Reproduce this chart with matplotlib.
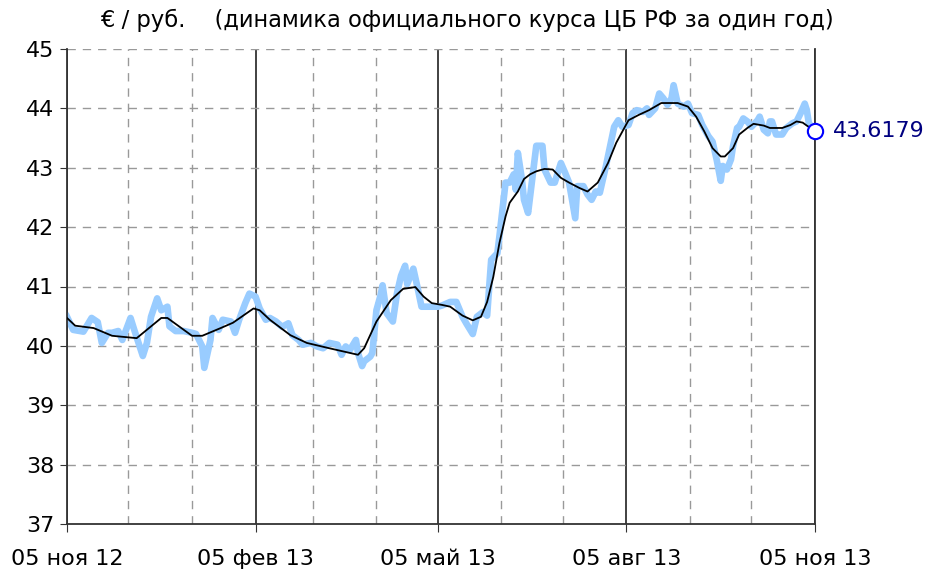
import numpy as np
import pandas as pd
import matplotlib
matplotlib.use('Agg')
import matplotlib.pyplot as plt
import matplotlib.dates as mdates

# daily EUR/RUB rate, days counted from 05 Nov 2012
start = pd.Timestamp('2012-11-05')
rate_days = [0, 3, 8, 12, 15, 17, 20, 22, 25, 27, 31, 33, 37, 39, 41, 44, 46, 49, 50, 53,
             57, 61, 63, 66, 67, 70, 71, 74, 76, 80, 82, 84, 87, 89, 92, 94, 97, 99, 102, 105,
             108, 110, 113, 115, 119, 122, 125, 128, 132, 134, 136, 138, 141, 142, 144, 145, 148, 149, 151, 153,
             154, 156, 159, 161, 163, 165, 166, 169, 171, 173, 177, 181, 183, 187, 190, 193, 195, 198, 200, 203,
             205, 207, 210, 211, 214, 216, 218, 219, 220, 222, 223, 225, 227, 229, 232, 233, 236, 238, 241, 243,
             245, 248, 249, 252, 254, 256, 258, 260, 263, 265, 267, 269, 271, 274, 276, 278, 281, 283, 284, 287,
             289, 291, 293, 295, 296, 298, 301, 303, 305, 308, 310, 313, 315, 317, 319, 320, 322, 324, 325, 327,
             328, 330, 332, 334, 337, 338, 340, 342, 343, 344, 346, 349, 351, 354, 356, 358, 360, 361, 362, 365]
rate = [40.49, 40.27, 40.24, 40.47, 40.40, 40.05, 40.22, 40.22, 40.25, 40.10, 40.47, 40.25, 39.83, 40.05, 40.49, 40.80, 40.60, 40.66, 40.33, 40.25,
        40.25, 40.22, 40.20, 39.99, 39.63, 40.10, 40.47, 40.27, 40.44, 40.41, 40.22, 40.44, 40.72, 40.88, 40.83, 40.63, 40.44, 40.47, 40.41, 40.32,
        40.38, 40.18, 40.10, 40.02, 40.05, 39.99, 39.96, 40.05, 40.02, 39.85, 39.99, 39.93, 40.10, 39.88, 39.66, 39.74, 39.82, 39.88, 40.60, 40.85,
        41.02, 40.55, 40.41, 40.88, 41.18, 41.35, 41.04, 41.30, 40.99, 40.66, 40.66, 40.66, 40.68, 40.74, 40.74, 40.49, 40.37, 40.20, 40.49, 40.57,
        40.51, 41.45, 41.56, 41.84, 42.75, 42.75, 42.89, 42.63, 43.25, 42.80, 42.46, 42.24, 42.80, 43.37, 43.37, 42.97, 42.75, 42.75, 43.08, 42.92,
        42.75, 42.15, 42.69, 42.69, 42.55, 42.46, 42.60, 42.58, 43.03, 43.36, 43.69, 43.80, 43.69, 43.72, 43.92, 43.97, 43.94, 44.00, 43.89, 44.00,
        44.25, 44.17, 44.06, 44.17, 44.39, 44.08, 44.03, 44.08, 43.92, 43.89, 43.72, 43.53, 43.44, 43.14, 42.78, 43.03, 42.97, 43.14, 43.36, 43.67,
        43.69, 43.83, 43.78, 43.69, 43.80, 43.86, 43.64, 43.58, 43.78, 43.78, 43.56, 43.56, 43.67, 43.75, 43.78, 43.92, 44.08, 43.97, 43.75, 43.6179]

# moving average (black line)
avg_days = [0, 4, 13, 22, 34, 46, 49, 61, 66, 75, 81, 91, 94, 99, 109, 117, 128, 142, 145, 151,
            158, 164, 170, 174, 178, 183, 187, 193, 198, 202, 205, 208, 211, 214, 216, 220, 223, 226, 229, 233,
            237, 241, 245, 250, 254, 259, 264, 268, 274, 279, 284, 290, 298, 303, 307, 311, 315, 319, 321, 325,
            328, 332, 335, 340, 343, 349, 353, 356, 359, 361, 365]
avg = [40.47, 40.34, 40.30, 40.17, 40.13, 40.47, 40.47, 40.17, 40.17, 40.30, 40.39, 40.63, 40.60, 40.44, 40.18, 40.05, 39.96, 39.85, 39.96, 40.41,
       40.77, 40.96, 40.99, 40.83, 40.72, 40.69, 40.66, 40.51, 40.43, 40.49, 40.74, 41.16, 41.73, 42.18, 42.41, 42.60, 42.81, 42.89, 42.94, 42.98,
       42.97, 42.83, 42.75, 42.66, 42.60, 42.75, 43.08, 43.42, 43.80, 43.89, 43.97, 44.09, 44.09, 44.03, 43.86, 43.61, 43.33, 43.19, 43.19, 43.33,
       43.56, 43.67, 43.74, 43.71, 43.67, 43.67, 43.72, 43.78, 43.76, 43.71, 43.62]

last_value = '43.6179'
quarter_labels = ['05 ноя 12', '05 фев 13', '05 май 13', '05 авг 13', '05 ноя 13']
title = '€ / руб.    (динамика официального курса ЦБ РФ за один год)'

rate_dates = [start + pd.Timedelta(days=d) for d in rate_days]
avg_dates = [start + pd.Timedelta(days=d) for d in avg_days]
months = [start + pd.DateOffset(months=m) for m in range(13)]
quarters = months[::3]

fig = plt.figure(figsize=(9.27, 5.73), dpi=100)
ax = fig.add_axes([67/927, 49/573, 748/927, 475/573])

# grid: dashed months / solid quarters
for i, m in enumerate(months):
    if i % 3 == 0:
        ax.axvline(m, color='#333333', lw=1.3, zorder=1)
    else:
        ax.axvline(m, color='#999999', lw=1.0, ls=(0, (6, 5)), zorder=1)
for y in range(38, 46):
    ax.axhline(y, color='#999999', lw=1.0, ls=(0, (6, 5)), zorder=1)

ax.plot(rate_dates, rate, color='#99ccff', lw=4.8, solid_joinstyle='round', zorder=2)
ax.plot(avg_dates, avg, color='black', lw=1.3, zorder=3)
ax.plot(rate_dates[-1], rate[-1], 'o', ms=11, mfc='white', mec='#0000ff', mew=1.5, zorder=4, clip_on=False)
ax.annotate(last_value, (rate_dates[-1], rate[-1]), xytext=(13, 0), textcoords='offset points',
            va='center', ha='left', fontsize=16, color='#000080')

ax.set_xlim(months[0], months[-1])
ax.set_ylim(37, 45)
ax.set_yticks(range(37, 46))
ax.set_xticks(quarters)
ax.set_xticklabels(quarter_labels)
ax.tick_params(axis='y', length=5, color='#333333', labelsize=16, pad=4)
ax.tick_params(axis='x', length=6, color='#333333', labelsize=16, pad=12)

ax.spines['top'].set_visible(False)
for s in ['left', 'bottom', 'right']:
    ax.spines[s].set_color('#333333')
    ax.spines[s].set_linewidth(1.3)

fig.text(100/927, 1 - 20/573, title, fontsize=16.3, va='center', ha='left')

plt.savefig('out.png', dpi=100)
